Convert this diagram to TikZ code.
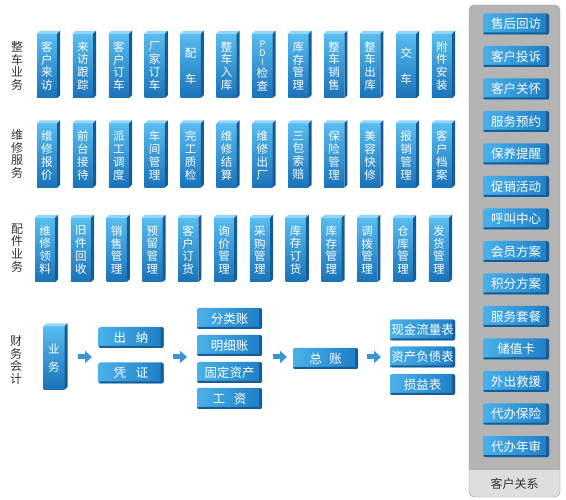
\documentclass[tikz,border=0pt]{standalone}
\usepackage{fontspec}
\newfontfamily\cjk{Noto Sans CJK SC}
\usetikzlibrary{arrows.meta}

\definecolor{towerA}{HTML}{58BCEF}
\definecolor{towerB}{HTML}{1A72B8}
\definecolor{towerS}{HTML}{135C98}
\definecolor{towerL}{HTML}{93D5F6}
\definecolor{flatA}{HTML}{4AB1EB}
\definecolor{flatB}{HTML}{1E7EC4}
\definecolor{flatD}{HTML}{155E99}
\definecolor{arrowblue}{HTML}{3A95D6}
\definecolor{panelgray}{HTML}{B4B4B4}
\definecolor{panelline}{HTML}{A0A0A0}
\definecolor{bandgray}{HTML}{DEDEDE}
\definecolor{labelgray}{HTML}{333333}

\newcommand\towerfaces[1]{%
  \fill[towerL] (#1.north west) -- ++(3,-3) -- ([shift={(3,-3)}]#1.north east) -- (#1.north east) -- cycle;
  \fill[towerS] (#1.north east) -- ([shift={(3,-3)}]#1.north east) -- ([shift={(3,-3)}]#1.south east) -- (#1.south east) -- cycle;}
\newcommand\lat[1]{{\fontsize{9}{9}\selectfont #1}}

\begin{document}
\begin{tikzpicture}[x=1pt,y=-1pt,
    every node/.style={font=\cjk\fontsize{11.5}{12.8}\selectfont, inner sep=0pt},
    tower/.style={minimum width=20pt, minimum height=64pt, top color=towerA,
      bottom color=towerB, text=white, align=center},
    flat/.style={minimum width=65pt, minimum height=21pt, left color=flatA,
      right color=flatB, text=white, rounded corners=2pt,
      font=\cjk\fontsize{12.5}{14}\selectfont,
      path picture={
        \fill[flatD] ([xshift=-3pt]path picture bounding box.north east) rectangle (path picture bounding box.south east);
        \fill[flatD] ([yshift=2pt]path picture bounding box.south west) rectangle (path picture bounding box.south east);}},
    rowlabel/.style={text=labelgray, align=center, font=\cjk\fontsize{12}{12.8}\selectfont},
    flow/.style={draw=arrowblue, line width=5pt, -{Triangle[width=12pt,length=7pt]}}]
\useasboundingbox (0,0) rectangle (566,500);

\node[rowlabel] (carlabel) at (17,66) {整\\车\\业\\务};
\foreach \t [count=\i from 0] in {客\\户\\来\\访, 来\\访\\跟\\踪, 客\\户\\订\\车, 厂\\家\\订\\车,
    配\\[13pt]车, 整\\车\\入\\库, \lat{P}\\[-4pt]\lat{D}\\[-4pt]\lat{I}\\检\\查, 库\\存\\管\\理,
    整\\车\\销\\售, 整\\车\\出\\库, 交\\[13pt]车, 附\\件\\安\\装} {
  \node[tower] (car\i) at (47+35.9*\i,66) {\t};
  \towerfaces{car\i}
}

\node[rowlabel] (svclabel) at (17,154) {维\\修\\服\\务};
\foreach \t [count=\i from 0] in {维\\修\\报\\价, 前\\台\\接\\待, 派\\工\\调\\度, 车\\间\\管\\理,
    完\\工\\质\\检, 维\\修\\结\\算, 维\\修\\出\\厂, 三\\包\\索\\赔,
    保\\险\\管\\理, 美\\容\\快\\修, 报\\销\\管\\理, 客\\户\\档\\案} {
  \node[tower] (svc\i) at (47+35.9*\i,155.5) {\t};
  \towerfaces{svc\i}
}

\node[rowlabel] (partlabel) at (17,248) {配\\件\\业\\务};
\foreach \t [count=\i from 0] in {维\\修\\领\\料, 旧\\件\\回\\收, 销\\售\\管\\理, 预\\留\\管\\理,
    客\\户\\订\\货, 询\\价\\管\\理, 采\\购\\管\\理, 库\\存\\订\\货,
    库\\存\\管\\理, 调\\拨\\管\\理, 仓\\库\\管\\理, 发\\货\\管\\理} {
  \node[tower] (part\i) at (45+35.8*\i,250) {\t};
  \towerfaces{part\i}
}

\node[rowlabel] (finlabel) at (16,360) {财\\务\\会\\计};
\node[tower, minimum width=21pt, minimum height=63pt] (yw) at (54,358) {业\\[5pt]务};
\towerfaces{yw}
\node[flat] (cn) at (131,337.5) {出\hspace{.8em}纳};
\node[flat] (pz) at (131,373) {凭\hspace{.8em}证};
\node[flat] (flz) at (229.5,318.5) {分类账};
\node[flat] (mxz) at (229.5,345.5) {明细账};
\node[flat] (gdzc) at (229.5,372.5) {固定资产};
\node[flat] (gz) at (229.5,398.5) {工\hspace{.7em}资};
\node[flat] (zz) at (325.5,358.5) {总\hspace{.6em}账};
\node[flat] (xjll) at (422.5,330) {现金流量表};
\node[flat] (zcfz) at (422.5,357) {资产负债表};
\node[flat] (syb) at (422.5,384.5) {损益表};
\foreach \a/\b [count=\i] in {78/92, 173/187, 273/287, 367/381} {
  \coordinate (fs\i) at (\a,357);
  \coordinate (fe\i) at (\b,357);
  \draw[flow] (fs\i) -- (fe\i);
}

\fill[panelgray, rounded corners=5pt] (469,5) rectangle (560,497);
\begin{scope}
  \clip[rounded corners=5pt] (469,5) rectangle (560,497);
  \fill[bandgray] (469,470) rectangle (560,497);
\end{scope}
\draw[panelline, rounded corners=5pt] (469,5) rectangle (560,497);
\node[text=labelgray, font=\cjk\fontsize{12}{14}\selectfont] (crm) at (514.5,484) {客户关系};
\foreach \t [count=\i from 0] in {售后回访, 客户投诉, 客户关怀, 服务预约, 保养提醒, 促销活动, 呼叫中心,
    会员方案, 积分方案, 服务套餐, 储值卡, 外出救援, 代办保险, 代办年审} {
  \node[flat, minimum width=66pt] (crm\i) at (516,24+32.5*\i) {\t};
}
\end{tikzpicture}
\end{document}
